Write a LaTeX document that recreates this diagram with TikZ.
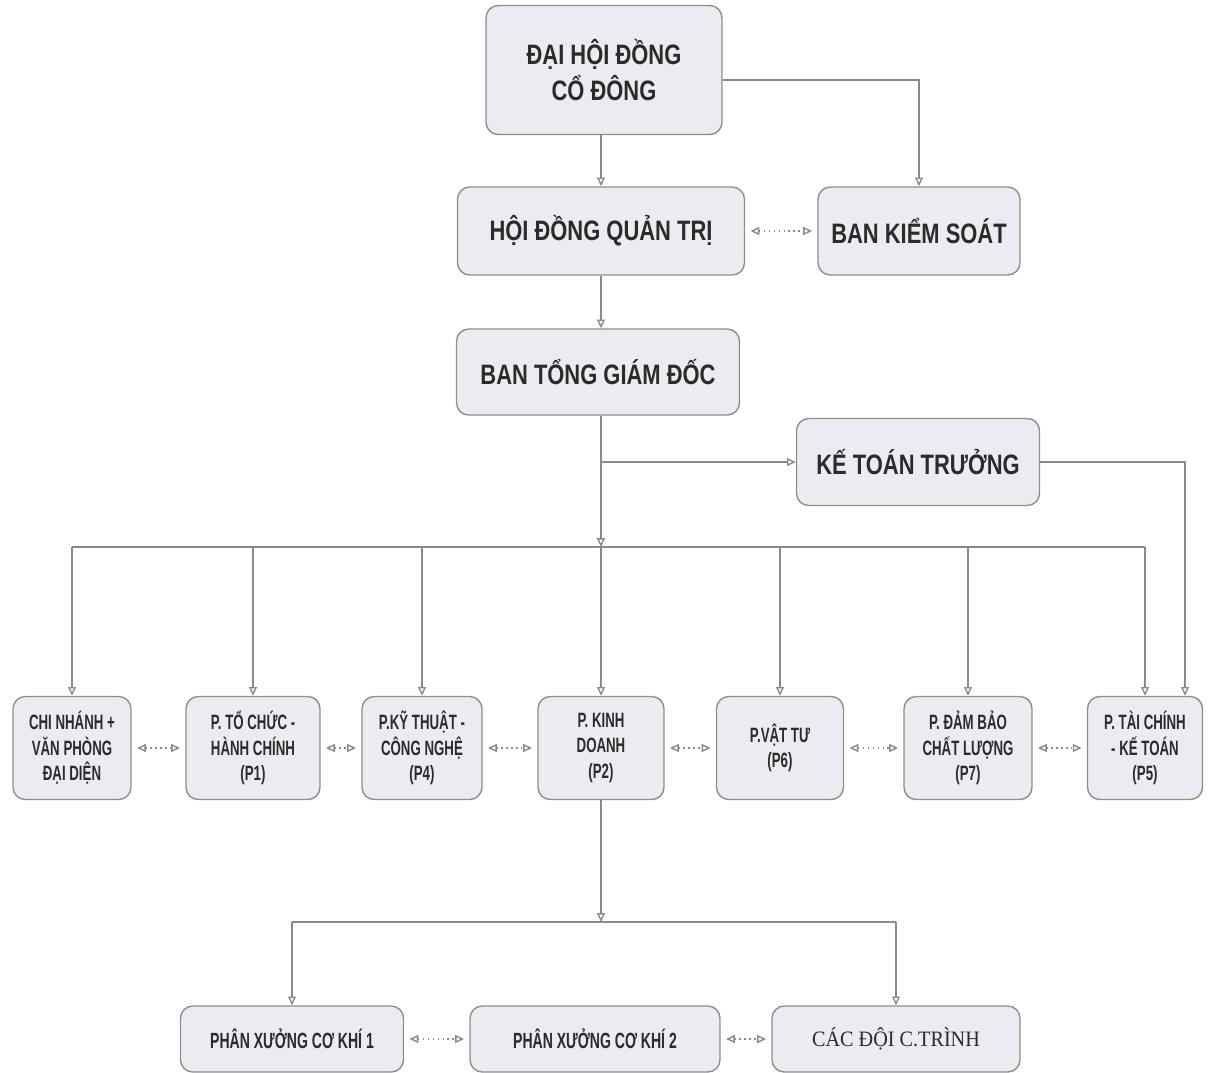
\documentclass[tikz,border=0pt]{standalone}
\usepackage{fontspec}
\setmainfont[FakeStretch=0.78]{Liberation Sans}
\newfontfamily\slimfont[FakeStretch=0.64]{Liberation Sans}
\newfontfamily\timesfont[FakeStretch=0.92]{Liberation Serif}
\usetikzlibrary{arrows.meta}
\definecolor{boxfill}{HTML}{EEEAF1}
\definecolor{boxline}{HTML}{8E8E8E}
\definecolor{linkgray}{HTML}{8A8A8A}
\definecolor{inkgray}{HTML}{2B2B2B}

\begin{document}
\begin{tikzpicture}[x=0.2mm, y=-0.2mm, >={Triangle[open,length=5pt,width=4.5pt]},
  every node/.style={text=inkgray},
  unit/.style={draw=boxline, fill=boxfill, rounded corners=7pt, align=center, inner sep=1pt, line width=0.8pt},
  head/.style={unit, font=\bfseries\fontsize{16}{20}\selectfont},
  dept/.style={unit, minimum height=20.6mm, font=\slimfont\bfseries\fontsize{11.8}{14.5}\selectfont},
  shop/.style={unit, minimum height=13.2mm, font=\slimfont\bfseries\fontsize{12.5}{14}\selectfont},
  link/.style={draw=linkgray, line width=0.8pt},
  peer/.style={link, <->, dotted, shorten <=3pt, shorten >=3pt}]
  \useasboundingbox (0,0) rectangle (1211,1072);

  \node[head, minimum width=47.2mm, minimum height=25.8mm] (dhdcd) at (604,70) {ĐẠI HỘI ĐỒNG\\CỔ ĐÔNG};
  \node[head, minimum width=57.4mm, minimum height=17.6mm] (hdqt) at (601,231) {HỘI ĐỒNG QUẢN TRỊ};
  \node[head, minimum width=40.4mm, minimum height=17.6mm] (bks) at (919,231) {BAN KIỂM SOÁT};
  \node[head, minimum width=56.6mm, minimum height=17.2mm] (btgd) at (598,372) {BAN TỔNG GIÁM ĐỐC};
  \node[head, minimum width=48.6mm, minimum height=17.4mm] (ktt) at (918,462) {KẾ TOÁN TRƯỞNG};

  \node[dept, minimum width=23.6mm] (cn) at (72,748) {CHI NHÁNH +\\VĂN PHÒNG\\ĐẠI DIỆN};
  \node[dept, minimum width=26.8mm] (p1) at (253,748) {P. TỔ CHỨC -\\HÀNH CHÍNH\\(P1)};
  \node[dept, minimum width=24mm] (p4) at (422,748) {P.KỸ THUẬT -\\CÔNG NGHỆ\\(P4)};
  \node[dept, minimum width=25.2mm] (p2) at (601,748) {P. KINH\\DOANH\\(P2)};
  \node[dept, minimum width=25.4mm] (p6) at (780,748) {P.VẬT TƯ\\(P6)};
  \node[dept, minimum width=25.6mm] (p7) at (968,748) {P. ĐẢM BẢO\\CHẤT LƯỢNG\\(P7)};
  \node[dept, minimum width=23mm] (p5) at (1145,748) {P. TÀI CHÍNH\\- KẾ TOÁN\\(P5)};

  \node[shop, minimum width=44.6mm] (px1) at (292,1039) {PHÂN XƯỞNG CƠ KHÍ 1};
  \node[shop, minimum width=50mm] (px2) at (595,1039) {PHÂN XƯỞNG CƠ KHÍ 2};
  \node[shop, minimum width=49.6mm, font=\timesfont\fontsize{12.5}{14}\selectfont] (cdct) at (896,1039) {CÁC ĐỘI C.TRÌNH};

  \coordinate (bustop) at (601,547);
  \coordinate (busbot) at (601,922);

  \draw[link,->] (dhdcd.south -| hdqt) -- (hdqt);
  \draw[link,->] ([yshift=-2mm]dhdcd.east) -| (bks.north);
  \draw[peer] (hdqt) -- (bks);
  \draw[link,->] (hdqt) -- (btgd.north -| hdqt);
  \draw[link,->] (btgd.south -| bustop) -- (bustop);
  \draw[link,->] (bustop |- ktt) -- (ktt);
  \draw[link,->] (ktt.east) -| ([xshift=8mm]p5.north);

  \draw[link] (cn |- bustop) -- (p5 |- bustop);
  \foreach \n in {cn,p1,p4,p2,p6,p7,p5}
    \draw[link,->] (\n |- bustop) -- (\n);
  \foreach \a/\b in {cn/p1,p1/p4,p4/p2,p2/p6,p6/p7,p7/p5,px1/px2,px2/cdct}
    \draw[peer] (\a) -- (\b);

  \draw[link,->] (p2) -- (busbot);
  \draw[link] (px1 |- busbot) -- (cdct |- busbot);
  \foreach \n in {px1,cdct}
    \draw[link,->] (\n |- busbot) -- (\n);
\end{tikzpicture}
\end{document}
